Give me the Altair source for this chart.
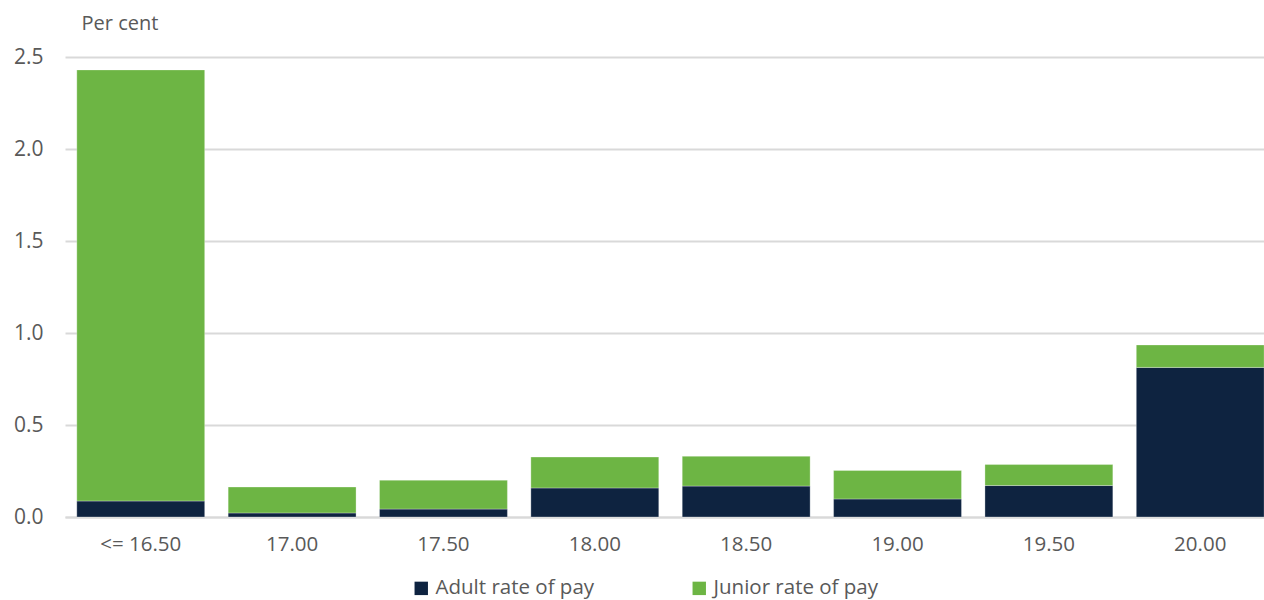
import altair as alt
import pandas as pd

# Hourly rate bins and share of employees (per cent) by pay type
categories = ["<= 16.50", "17.00", "17.50", "18.00", "18.50", "19.00", "19.50", "20.00"]
adult = [0.087, 0.022, 0.043, 0.158, 0.168, 0.098, 0.171, 0.813]
junior = [2.343, 0.141, 0.157, 0.168, 0.162, 0.155, 0.114, 0.122]
series = ["Adult rate of pay", "Junior rate of pay"]
colors = ["#0E2340", "#6DB544"]
y_ticks = [0.0, 0.5, 1.0, 1.5, 2.0, 2.5]

rows = []
for i, cat in enumerate(categories):
    rows.append({"bin": cat, "series": series[0], "value": adult[i], "order": 0})
    rows.append({"bin": cat, "series": series[1], "value": junior[i], "order": 1})
df = pd.DataFrame(rows)

FONT = "Open Sans"
GREY = "#595959"

chart = (
    alt.Chart(df)
    .mark_bar(stroke="white", strokeWidth=0.5, strokeOpacity=0.6)
    .encode(
        x=alt.X(
            "bin:N",
            sort=categories,
            scale=alt.Scale(paddingInner=0.155, paddingOuter=0.078, range=[0, 1211]),
            axis=alt.Axis(
                title=None,
                labelAngle=0,
                ticks=False,
                domain=True,
                domainColor="#d9d9d9",
                domainWidth=2,
                labelPadding=17,
                labelFontSize=20.5,
                labelColor=GREY,
                labelFont=FONT,
            ),
        ),
        y=alt.Y(
            "value:Q",
            stack="zero",
            scale=alt.Scale(domain=[0, 2.5], nice=False),
            axis=alt.Axis(
                values=y_ticks,
                format=".1f",
                title="Per cent",
                titleAngle=0,
                titleAlign="left",
                titleBaseline="middle",
                titleX=16,
                titleY=-34,
                titleFontSize=20,
                titleFontWeight="normal",
                titleColor=GREY,
                titleFont=FONT,
                ticks=False,
                domain=False,
                gridColor="#d9d9d9",
                gridWidth=2,
                labelPadding=22,
                labelFontSize=21,
                labelColor=GREY,
                labelFont=FONT,
            ),
        ),
        color=alt.Color(
            "series:N",
            scale=alt.Scale(domain=series, range=colors),
            legend=alt.Legend(
                title=None,
                orient="none",
                direction="horizontal",
                legendX=346,
                legendY=521,
                symbolType="square",
                symbolSize=180,
                symbolStrokeWidth=0,
                labelFontSize=20.5,
                labelColor=GREY,
                labelFont=FONT,
                labelLimit=0,
                columnPadding=94,
                labelOffset=4,
            ),
        ),
        order=alt.Order("order:Q"),
    )
    .properties(
        width=1199,
        height=460,
        autosize=alt.AutoSizeParams(type="none"),
        padding={"left": 65, "top": 57, "right": 0, "bottom": 83},
    )
    .configure_view(stroke=None)
)

chart.save("out.html", embed_options={"renderer": "svg", "actions": False})
